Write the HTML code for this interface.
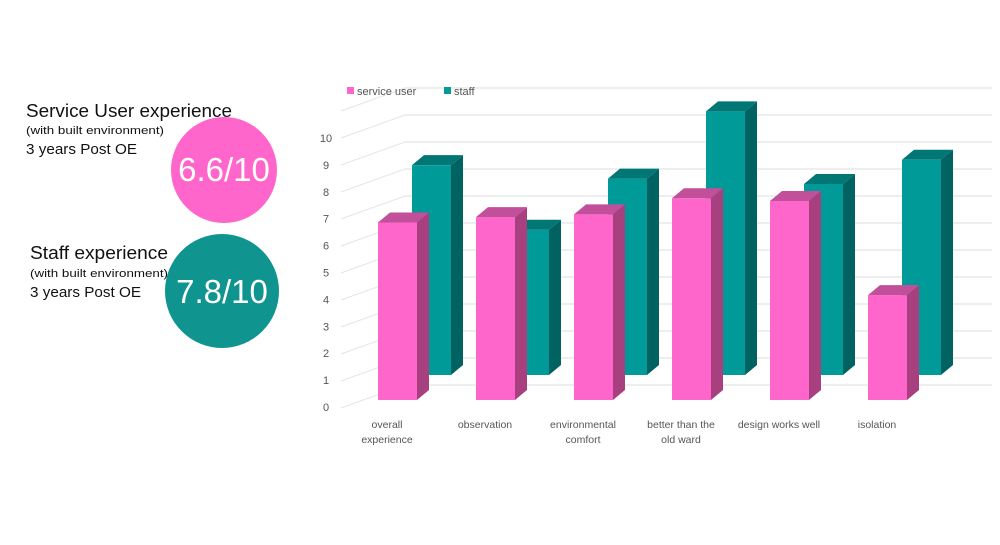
<!DOCTYPE html>
<html><head><meta charset="utf-8"><style>
body{margin:0;background:#fff;width:1000px;height:545px;overflow:hidden;font-family:"Liberation Sans",sans-serif;}
svg{position:absolute;left:0;top:0}
</style></head><body>
<svg width="1000" height="545">
<g font-family="Liberation Sans, sans-serif" fill="#111">
  <circle cx="224" cy="170" r="53" fill="#ff66cc"/>
  <text x="26" y="117" font-size="18" textLength="206" lengthAdjust="spacingAndGlyphs">Service User experience</text>
  <text x="26" y="134" font-size="11" textLength="138" lengthAdjust="spacingAndGlyphs">(with built environment)</text>
  <text x="26" y="154" font-size="15" textLength="111" lengthAdjust="spacingAndGlyphs">3 years Post OE</text>
  <text x="224" y="181" font-size="33" fill="#fff" text-anchor="middle">6.6/10</text>
  <circle cx="222" cy="291" r="57" fill="#0f9490"/>
  <text x="30" y="259" font-size="18" textLength="138" lengthAdjust="spacingAndGlyphs">Staff experience</text>
  <text x="30" y="277" font-size="11" textLength="138" lengthAdjust="spacingAndGlyphs">(with built environment)</text>
  <text x="30" y="297" font-size="15" textLength="111" lengthAdjust="spacingAndGlyphs">3 years Post OE</text>
  <text x="222" y="303" font-size="33" fill="#fff" text-anchor="middle">7.8/10</text>
</g>
<g id="chart"></g>
</svg>
<script>
const categories=[["overall","experience"],["observation"],["environmental","comfort"],["better than the","old ward"],["design works well"],["isolation"]];
const serviceUser=[6.6,6.8,6.9,7.5,7.4,3.9];
const staff=[7.8,5.4,7.3,9.8,7.1,8.0];
const ticks=[0,1,2,3,4,5,6,7,8,9,10];
const NS="http://www.w3.org/2000/svg";
const g=document.getElementById('chart');
const unit=26.9;
const yFront=v=>400-unit*v;
const yBack=v=>375-unit*v;
const xPink=i=>378+98*i;
const xStaff=i=>412+98*i;
function mk(tag,attrs,parent){const e=document.createElementNS(NS,tag);for(const k in attrs)e.setAttribute(k,attrs[k]);(parent||g).appendChild(e);return e;}
for(let v=0;v<=11;v++){
  const yb=385-27*v;
  const l=mk('line',{x1:405,y1:yb,x2:992,y2:yb,stroke:'#dedede','stroke-width':1});
  
  
  const d=mk('line',{x1:341,y1:408-27*v,x2:405,y2:yb,stroke:'#e4e4e4','stroke-width':1});
  
  
}
ticks.forEach(t=>{
  const tx=mk('text',{x:326,y:yFront(t)+11,'font-size':11,fill:'#555','text-anchor':'middle','font-family':'Liberation Sans, sans-serif'});
  tx.textContent=t;
  
  
});
function bar(x,base,top,front,side,topc,name){
  const w=39,dx=12,dy=10;
  const grp=mk('g',{});
  
  
  mk('rect',{x:x,y:top,width:w,height:base-top,fill:front},grp);
  mk('polygon',{points:`${x+w},${top} ${x+w+dx},${top-dy} ${x+w+dx},${base-dy} ${x+w},${base}`,fill:side},grp);
  mk('polygon',{points:`${x},${top} ${x+dx},${top-dy} ${x+w+dx},${top-dy} ${x+w},${top}`,fill:topc},grp);
}
staff.forEach((v,i)=>bar(xStaff(i),375,yBack(v),'#009a98','#006361','#007675','bar-staff-'+i));
serviceUser.forEach((v,i)=>bar(xPink(i),400,yFront(v),'#ff66cc','#a8407f','#c24f99','bar-service-user-'+i));
categories.forEach((c,i)=>{
  c.forEach((line,j)=>{
    const tx=mk('text',{x:xPink(i)+9,y:428+j*15,'font-size':10.5,fill:'#555','text-anchor':'middle','font-family':'Liberation Sans, sans-serif'});
    tx.textContent=line;
    
    
  });
});
const lg=mk('g',{'font-family':'Liberation Sans, sans-serif','font-size':11,fill:'#555'});


mk('rect',{x:347,y:87,width:7,height:7,fill:'#ff66cc'},lg);
const t1=mk('text',{x:357,y:95},lg);t1.textContent='service user';


mk('rect',{x:444,y:87,width:7,height:7,fill:'#009a98'},lg);
const t2=mk('text',{x:454,y:95},lg);t2.textContent='staff';


</script>
</body></html>
